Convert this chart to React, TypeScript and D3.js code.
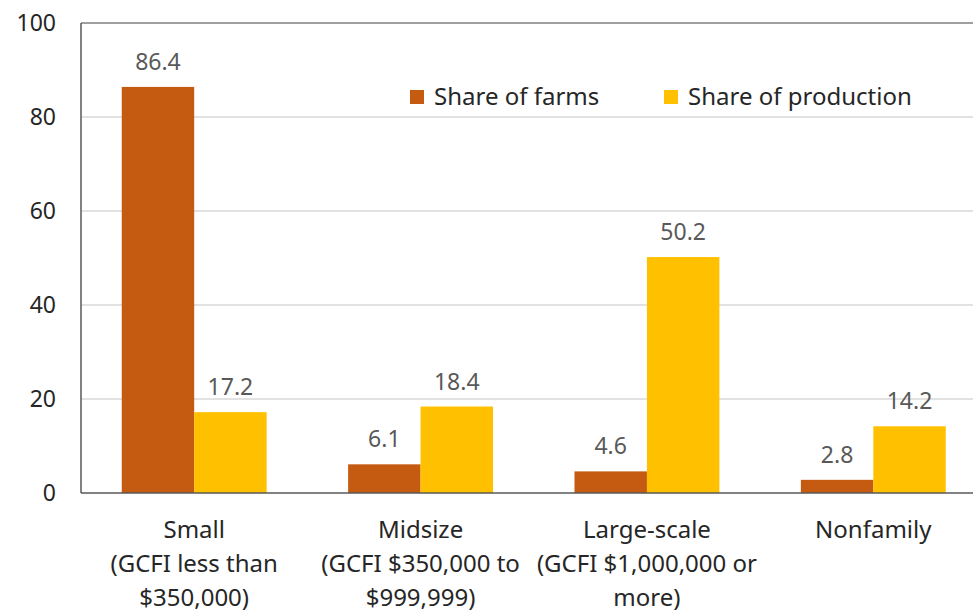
import React from "react";
import * as d3 from "d3";

const categories = [
  ["Small", "(GCFI less than", "$350,000)"],
  ["Midsize", "(GCFI $350,000 to", "$999,999)"],
  ["Large-scale", "(GCFI $1,000,000 or", "more)"],
  ["Nonfamily"],
];
const categoryKeys = ["Small", "Midsize", "Large-scale", "Nonfamily"];
const seriesNames = ["Share of farms", "Share of production"];
const shareOfFarms = [86.4, 6.1, 4.6, 2.8];
const shareOfProduction = [17.2, 18.4, 50.2, 14.2];
const yTicks = [0, 20, 40, 60, 80, 100];
const colors = ["#C55A11", "#FFC000"];

const W = 973;
const H = 610;
const FONT = "'Noto Sans', sans-serif";

export default function App() {
  const left = 81;
  const right = 986.5;
  const top = 23;
  const bottom = 493;
  const x = d3.scaleBand<string>().domain(categoryKeys).range([left, right]).paddingInner(0.36).paddingOuter(0.18);
  const x1 = d3.scaleBand<number>().domain([0, 1]).range([0, x.bandwidth()]);
  const y = d3.scaleLinear().domain([0, 100]).range([bottom, top]);
  const series = [shareOfFarms, shareOfProduction];

  return (
    <svg width={W} height={H} style={{ position: "absolute", left: 0, top: 0, background: "#fff" }} fontFamily={FONT}>
      {yTicks.map((t) => (
        <g key={t}>
          {t !== 0 && t !== 100 && (
            <line x1={left} x2={W} y1={y(t)} y2={y(t)} stroke="#d9d9d9" strokeWidth={1.5} />
          )}
          <text x={56} y={y(t)} dy="0.35em" textAnchor="end" fontSize={23} fill="#262626">
            {t}
          </text>
        </g>
      ))}
      <line x1={left} x2={W} y1={top} y2={top} stroke="#7f7f7f" strokeWidth={1.5} />
      {series.map((vals, si) =>
        vals.map((v, i) => {
          const bx = (x(categoryKeys[i]) as number) + (x1(si) as number);
          return (
            <g key={`${si}-${i}`}>
              <rect x={bx} y={y(v)} width={x1.bandwidth()} height={bottom - y(v)} fill={colors[si]} />
              <text x={bx + x1.bandwidth() / 2} y={y(v) - 17} textAnchor="middle" fontSize={23} fill="#595959">
                {v.toFixed(1)}
              </text>
            </g>
          );
        })
      )}
      <line x1={left} x2={left} y1={top} y2={bottom} stroke="#595959" strokeWidth={1.5} />
      <line x1={left} x2={W} y1={bottom} y2={bottom} stroke="#595959" strokeWidth={1.5} />
      {categories.map((lines, i) => {
        const cx = (x(categoryKeys[i]) as number) + x.bandwidth() / 2;
        return (
          <text key={i} textAnchor="middle" fontSize={24} fill="#262626">
            {lines.map((l, j) => (
              <tspan key={j} x={cx} y={538 + j * 34}>
                {l}
              </tspan>
            ))}
          </text>
        );
      })}
      {seriesNames.map((n, i) => {
        const lx = [410, 664][i];
        return (
          <g key={n}>
            <rect x={lx} y={90} width={14} height={14} fill={colors[i]} />
            <text x={lx + 24} y={97} dy="0.35em" fontSize={24} fill="#262626">
              {n}
            </text>
          </g>
        );
      })}
    </svg>
  );
}
